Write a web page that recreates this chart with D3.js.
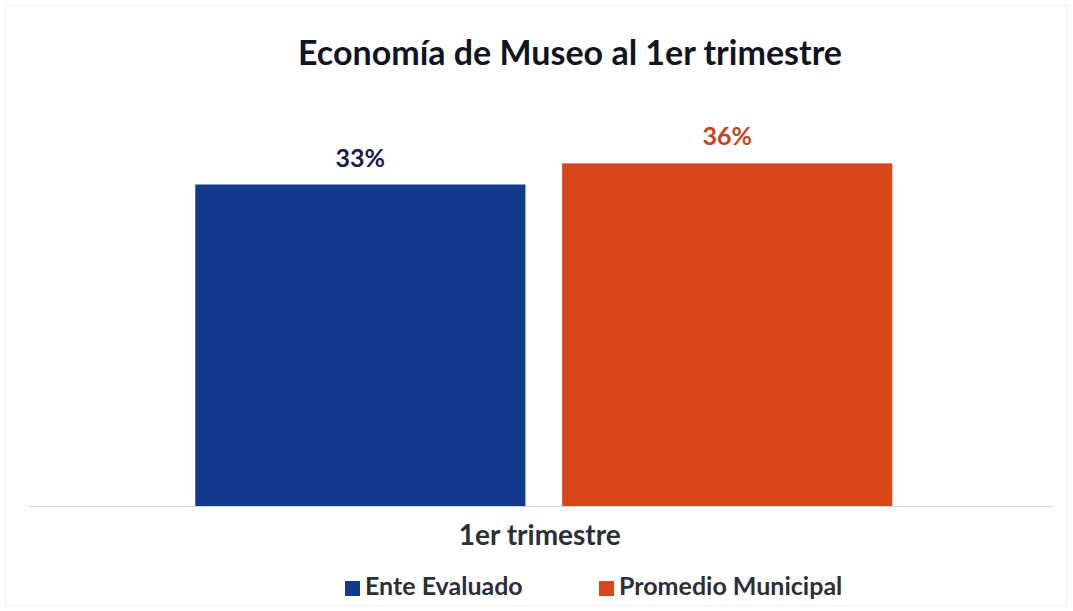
<!DOCTYPE html>
<html>
<head>
<meta charset="utf-8">
<script src="https://cdn.jsdelivr.net/npm/d3@7"></script>
<style>
  html, body { margin: 0; padding: 0; background: #fff; }
  #chart { width: 1073px; height: 611px; }
  text { font-family: Lato, "Open Sans", sans-serif; }
</style>
</head>
<body>
<div id="chart"></div>
<script>
// datos del gráfico
const title = "Economía de Museo al 1er trimestre";
const categories = ["1er trimestre"];
const seriesNames = ["Ente Evaluado", "Promedio Municipal"];
const seriesValues = [33.4, 35.6];
const seriesColors = ["#123a8c", "#d9461c"];
const labelColors = ["#15204a", "#c8421c"];

const W = 1073, H = 611;
const margin = { top: 121, right: 20, bottom: 105, left: 28 };
const baseY = H - margin.bottom;

const svg = d3.select("#chart").append("svg")
  .attr("width", W).attr("height", H);

// marco tenue
svg.append("rect")
  .attr("x", 5.5).attr("y", 5.5)
  .attr("width", W - 11).attr("height", H - 11)
  .attr("fill", "none")
  .attr("stroke", "#efefef");

// escalas
const x0 = d3.scaleBand()
  .domain(categories)
  .range([margin.left, W - margin.right])
  .paddingInner(0).paddingOuter(0.2353)
  .align(0.51);

const x1 = d3.scaleBand()
  .domain(seriesNames)
  .range([0, x0.bandwidth()])
  .paddingInner(0.1);

const y = d3.scaleLinear()
  .domain([0, 40])
  .range([baseY, margin.top]);

// título
svg.append("text")
  .attr("x", 570).attr("y", 65)
  .attr("text-anchor", "middle")
  .attr("font-size", 34).attr("font-weight", 700)
  .attr("fill", "#111522")
  .text(title);

// barras
const g = svg.append("g");
categories.forEach(cat => {
  seriesNames.forEach((name, i) => {
    const bx = x0(cat) + x1(name);
    g.append("rect")
      .attr("x", bx)
      .attr("y", y(seriesValues[i]))
      .attr("width", x1.bandwidth())
      .attr("height", baseY - y(seriesValues[i]))
      .attr("fill", seriesColors[i]);
    g.append("text")
      .attr("x", bx + x1.bandwidth() / 2)
      .attr("y", y(seriesValues[i]) - 18)
      .attr("text-anchor", "middle")
      .attr("font-size", 25).attr("font-weight", 700)
      .attr("fill", labelColors[i])
      .text(d3.format(".0f")(seriesValues[i]) + "%");
  });
});

// eje x (línea base a todo el ancho)
svg.append("line")
  .attr("x1", margin.left).attr("x2", W - margin.right)
  .attr("y1", baseY + 0.5).attr("y2", baseY + 0.5)
  .attr("stroke", "#d6d6d6");
const xAxis = svg.append("g")
  .attr("transform", `translate(-4,${baseY})`)
  .call(d3.axisBottom(x0).tickSize(0).tickSizeOuter(0));
xAxis.select(".domain").remove();
xAxis.selectAll("text")
  .attr("dy", 0).attr("y", 39)
  .attr("font-family", "Lato, sans-serif")
  .attr("font-size", 28).attr("font-weight", 700)
  .attr("fill", "#2c2f38");

// leyenda
const legendX = [345, 599];
const legend = svg.append("g");
seriesNames.forEach((name, i) => {
  legend.append("rect")
    .attr("x", legendX[i]).attr("y", 581)
    .attr("width", 15).attr("height", 15)
    .attr("fill", seriesColors[i]);
  legend.append("text")
    .attr("x", legendX[i] + 20).attr("y", 595)
    .attr("font-size", 25).attr("font-weight", 700)
    .attr("fill", "#2c2f38")
    .text(name);
});
</script>
</body>
</html>
